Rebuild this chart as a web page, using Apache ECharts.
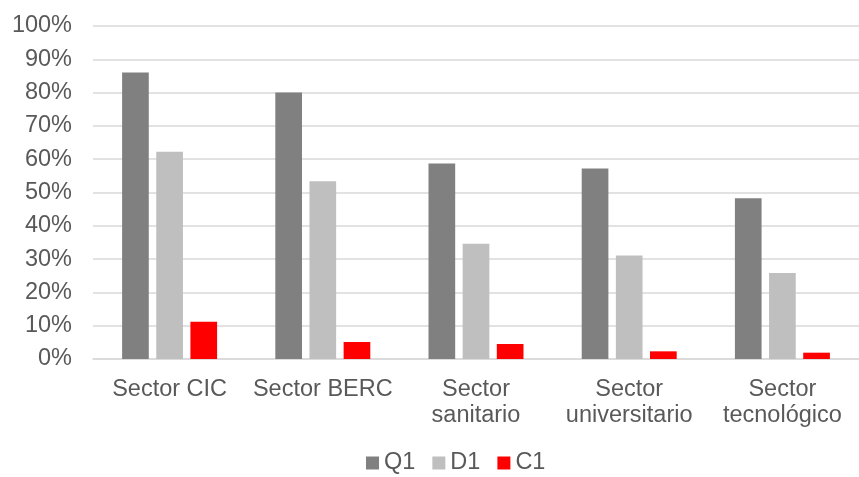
<!DOCTYPE html>
<html>
<head>
<meta charset="utf-8">
<script src="https://cdn.jsdelivr.net/npm/echarts@6/dist/echarts.min.js"></script>
<style>html,body{margin:0;padding:0;background:#fff}#c{width:859px;height:477px}</style>
</head>
<body>
<div id="c"></div>
<script>
var categories = ['Sector CIC', 'Sector BERC', 'Sector\nsanitario', 'Sector\nuniversitario', 'Sector\ntecnológico'];
var seriesNames = ['Q1', 'D1', 'C1'];
var q1 = [86.0, 80.0, 58.7, 57.2, 48.3];
var d1 = [62.2, 53.4, 34.6, 31.1, 25.8];
var c1 = [11.2, 5.1, 4.5, 2.3, 1.9];
var yTicks = [0, 10, 20, 30, 40, 50, 60, 70, 80, 90, 100];
var colors = ['#808080', '#BFBFBF', '#FF0000'];

var chart = echarts.init(document.getElementById('c'), null, {renderer: 'canvas'});
var font = 'Liberation Sans, Arial, sans-serif';
var dataSets = [q1, d1, c1];
chart.setOption({
  animation: false,
  textStyle: {fontFamily: font},
  grid: {left: 93, top: 26, width: 779, height: 333, containLabel: false},
  legend: {
    data: seriesNames,
    top: 451,
    left: 366,
    padding: 0,
    itemWidth: 13,
    itemHeight: 13,
    itemGap: 17,
    icon: 'rect',
    textStyle: {fontSize: 23.5, color: '#595959', fontFamily: font, lineHeight: 24}
  },
  xAxis: {
    type: 'category',
    data: categories,
    axisLine: {lineStyle: {color: '#D9D9D9', width: 1.5}},
    axisTick: {show: false},
    axisLabel: {fontSize: 23.5, color: '#595959', fontFamily: font, margin: 18, lineHeight: 26, interval: 0}
  },
  yAxis: {
    type: 'value',
    min: yTicks[0],
    max: yTicks[yTicks.length - 1],
    interval: 10,
    axisLine: {show: false},
    axisTick: {show: false},
    splitLine: {lineStyle: {color: '#D9D9D9', width: 1.5}},
    axisLabel: {fontSize: 23.5, color: '#595959', fontFamily: font, margin: 21, formatter: '{value}%'}
  },
  series: seriesNames.map(function (n, i) {
    return {
      name: n,
      type: 'bar',
      data: dataSets[i],
      barGap: '28%',
      barCategoryGap: '38%',
      itemStyle: {color: colors[i]}
    };
  })
});
</script>
</body>
</html>
